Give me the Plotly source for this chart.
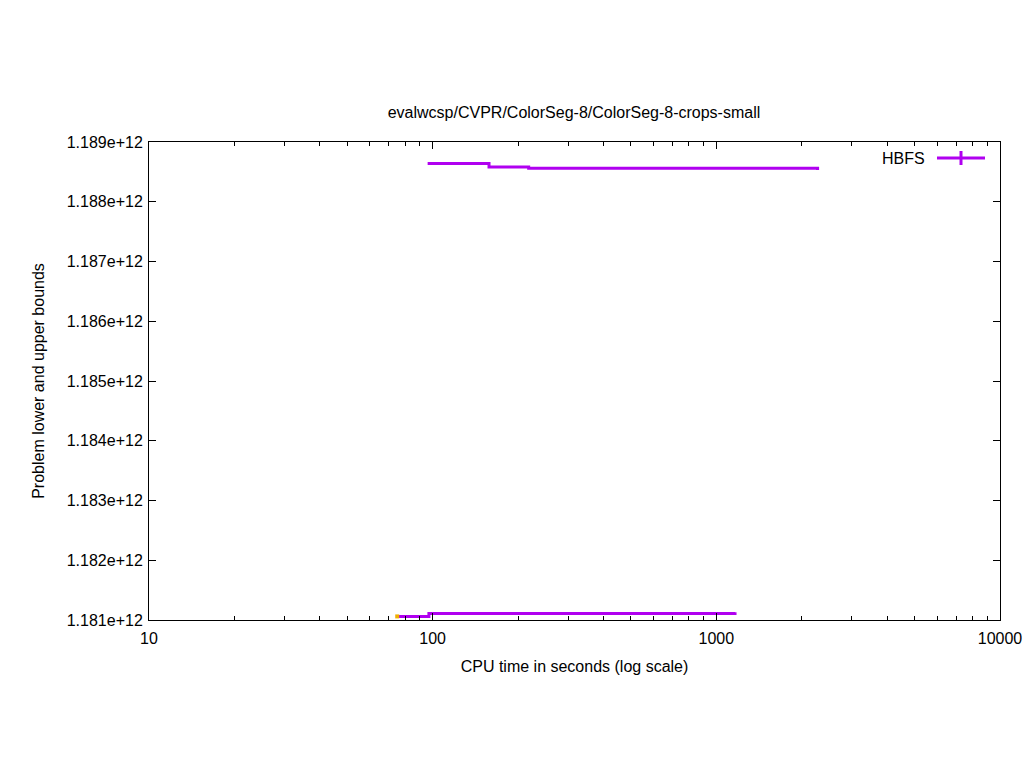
import plotly.graph_objects as go

# upper bound (steps)
ub_time = [96, 158, 218, 2275]
ub_value = [1.18864e12, 1.18858e12, 1.18856e12, 1.18853e12]

# lower bound (steps)
lb_time = [76, 97, 1164]
lb_value = [1.18106e12, 1.18111e12, 1.18113e12]

# first lower bound point (yellow)
start_time = [75]
start_value = [1.18106e12]

y_ticks = [1.181e12 + i * 1e9 for i in range(9)]
y_labels = ["1.%de+12" % (181 + i) for i in range(9)]
x_ticks = [10, 100, 1000, 10000]

purple = "#b000f0"
font = "Liberation Sans, Arial, sans-serif"

# the page body margin is removed below, so the figure sits at 0,0
W, H = 1024, 768
L, T = 149, 142
R = W - 1000
B = H - 620
pw, ph = W - L - R, H - T - B


def to_paper(x, y):
    # screen pixel -> paper coordinates
    return (x - L) / pw, 1 - (y - T) / ph


fig = go.Figure()
fig.add_trace(go.Scatter(x=ub_time, y=ub_value, mode="lines", line_shape="hv",
                         line=dict(color=purple, width=3), showlegend=False))
fig.add_trace(go.Scatter(x=lb_time, y=lb_value, mode="lines", line_shape="hv",
                         line=dict(color=purple, width=3), showlegend=False))
fig.add_trace(go.Scatter(x=start_time, y=start_value, mode="markers",
                         marker=dict(color="#f0b000", size=4, symbol="square"), showlegend=False))

# gnuplot style key
kx, ky = to_paper(927, 158)
fig.add_annotation(x=kx, y=ky, xref="paper", yref="paper", text="HBFS", showarrow=False,
                   xanchor="right", yanchor="middle", font=dict(size=16, color="black"))
x0, y0 = to_paper(937, 158)
x1, _ = to_paper(985, 158)
xm, ya = to_paper(961, 151)
_, yb = to_paper(961, 165)
fig.add_shape(type="line", xref="paper", yref="paper", x0=x0, x1=x1, y0=y0, y1=y0,
              line=dict(color=purple, width=3))
fig.add_shape(type="line", xref="paper", yref="paper", x0=xm, x1=xm, y0=ya, y1=yb,
              line=dict(color=purple, width=3))

fig.update_layout(
    width=W, height=H,
    paper_bgcolor="white", plot_bgcolor="white",
    margin=dict(l=L, r=R, t=T, b=B, autoexpand=False),
    font=dict(family=font, size=16, color="black"),
    title=dict(text="evalwcsp/CVPR/ColorSeg-8/ColorSeg-8-crops-small",
               x=574 / W, xanchor="center",
               y=1 - 112 / H, yanchor="middle", font=dict(size=16)),
)

fig.update_xaxes(type="log", range=[1, 4], tickvals=x_ticks, ticktext=["10", "100", "1000", "10000"],
                 ticks="inside", ticklen=7, tickcolor="black", showline=True, linecolor="black",
                 linewidth=1, mirror="ticks", showgrid=False, zeroline=False,
                 minor=dict(ticks="inside", ticklen=4, tickcolor="black", dtick="D1", showgrid=False),
                 ticklabelstandoff=4, ticklabeloverflow="allow",
                 title=dict(text="CPU time in seconds (log scale)", standoff=14, font=dict(size=16)),
                 tickfont=dict(size=16))
fig.update_yaxes(range=[1.181e12, 1.189e12], tickvals=y_ticks, ticktext=y_labels,
                 ticks="inside", ticklen=7, tickcolor="black", showline=True, linecolor="black",
                 linewidth=1, mirror="ticks", showgrid=False, zeroline=False,
                 ticklabelstandoff=2,
                 title=dict(text="Problem lower and upper bounds", standoff=18, font=dict(size=16)),
                 tickfont=dict(size=16))

fig.write_html("out.html", config={"displayModeBar": False},
               post_script="document.body.style.margin='0';document.body.style.overflow='hidden';")
